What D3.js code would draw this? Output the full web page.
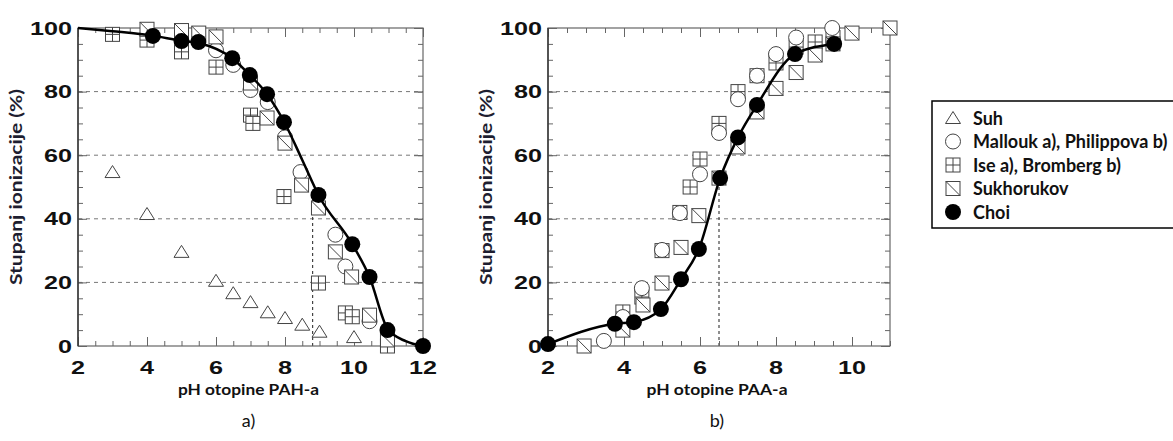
<!DOCTYPE html>
<html>
<head>
<meta charset="utf-8">
<script src="https://cdn.jsdelivr.net/npm/d3@7"></script>
<style>
  body { margin: 0; background: #fff; }
  svg { display: block; }
</style>
</head>
<body>
<div id="chart"></div>
<script>
// ---- data ----
// panel a) PAH
const suhX_a = [3, 4, 5, 6, 6.5, 7, 7.5, 8, 8.5, 9, 10];
const suhY_a = [54.7, 41.5, 29.6, 20.5, 16.6, 13.8, 10.6, 8.8, 6.7, 4.5, 2.8];

const mallX_a = [6, 6.5, 7, 7.5, 8, 8.45, 9.46, 9.75, 10.45];
const mallY_a = [93, 88.4, 80.5, 76.7, 65.6, 54.7, 35, 25, 7.8];

const iseX_a = [3, 4, 5, 6, 7, 7.07, 7.97, 8.97, 9.75, 9.95, 10.97];
const iseY_a = [98, 96.2, 92.5, 87.7, 72.6, 70, 47, 19.8, 10.4, 9.2, 0];

const sukhX_a = [4, 5, 5.5, 6, 7, 7.48, 8, 8.48, 8.97, 9.46, 9.93, 10.45, 10.97];
const sukhY_a = [99.6, 99.2, 98.4, 97.2, 82.7, 71.7, 63.8, 50.6, 43.4, 29.6, 21.7, 9.7, 1.9];

const choiX_a = [4.17, 5, 5.49, 6.47, 6.98, 7.48, 7.97, 8.97, 9.95, 10.45, 10.97, 12];
const choiY_a = [97.5, 95.9, 95.6, 90.5, 85.2, 79.2, 70.4, 47.5, 32, 21.7, 5, 0];

const fitX_a = [2, 3, 4.17, 5, 5.49, 6.47, 6.98, 7.48, 7.97, 8.5, 8.97, 9.95, 10.45, 10.97, 11.5, 12];
const fitY_a = [100, 99, 97.6, 96, 95.3, 90.5, 85.2, 79.2, 70.6, 58.5, 47.5, 32, 21.7, 5.5, 1.5, 0];

const refX_a = 8.8, refY_a = 47;

// panel b) PAA
const mallX_b = [3.47, 3.97, 4.47, 5, 5.47, 6, 6.5, 7, 7.5, 8, 8.53, 9.48];
const mallY_b = [1.6, 9.1, 18.2, 30.2, 41.8, 54, 67, 77.6, 85, 91.8, 97, 100];

const iseX_b = [3.97, 4.47, 5, 5.47, 5.74, 6, 6.5, 7, 7.5, 8, 8.53, 9.03, 9.5];
const iseY_b = [10.7, 15.4, 30, 42, 50, 58.8, 70, 80, 85, 89, 94, 95.6, 97];

const sukhX_b = [2.95, 3.97, 4.5, 5, 5.5, 5.97, 6.5, 7, 7.5, 8, 8.53, 9.03, 9.5, 10, 11];
const sukhY_b = [0, 5, 12.9, 19.8, 31, 41, 52.8, 62.6, 73.6, 81, 86, 91.5, 95, 98.4, 100];

const choiX_b = [2, 3.76, 4.26, 4.97, 5.5, 5.97, 6.53, 7, 7.5, 8.5, 9.53];
const choiY_b = [0.6, 7, 7.5, 11.6, 21, 30.5, 52.8, 65.6, 75.8, 91.8, 95];

const refX_b = 6.5, refY_b = 52;

const legendLabels = ["Suh", "Mallouk a), Philippova b)", "Ise a), Bromberg b)", "Sukhorukov", "Choi"];
const legendKinds = ["tri", "circle", "ise", "sukh", "choi"];

const yTicks = [0, 20, 40, 60, 80, 100];
const yGrid = [20, 40, 60, 80];
const xTicks_a = [2, 4, 6, 8, 10, 12];
const xTicks_b = [2, 4, 6, 8, 10];

const yTitle = "Stupanj ionizacije (%)";
const xTitle_a = "pH otopine PAH-a";
const xTitle_b = "pH otopine PAA-a";

// ---- drawing ----
const width = 1173, height = 441;
const svg = d3.select("#chart").append("svg")
    .attr("width", width)
    .attr("height", height);

const mStroke = "#444";
const zip = (xs, ys) => xs.map((x, i) => [x, ys[i]]);

function drawMarkers(g, pts, kind, x, y) {
    const sel = g.append("g").selectAll("g")
        .data(pts)
        .join("g")
        .attr("transform", d => `translate(${x(d[0])},${y(d[1])})`);
    drawSymbol(sel, kind);
}

function drawSymbol(sel, kind) {
    const s = 7;
    if (kind === "tri") {
        sel.append("path")
            .attr("d", `M0,${-6.5}L7.5,5.5L-7.5,5.5Z`)
            .attr("fill", "#fff").attr("stroke", mStroke).attr("stroke-width", 1);
    } else if (kind === "circle") {
        sel.append("circle").attr("r", 7.5)
            .attr("fill", "#fff").attr("stroke", mStroke).attr("stroke-width", 1);
    } else if (kind === "ise") {
        sel.append("rect").attr("x", -s).attr("y", -s).attr("width", 2 * s).attr("height", 2 * s)
            .attr("fill", "#fff").attr("stroke", mStroke).attr("stroke-width", 1);
        sel.append("path").attr("d", `M0,${-s}V${s}M${-s},0H${s}`)
            .attr("stroke", mStroke).attr("stroke-width", 1);
    } else if (kind === "sukh") {
        sel.append("rect").attr("x", -s).attr("y", -s).attr("width", 2 * s).attr("height", 2 * s)
            .attr("fill", "#fff").attr("stroke", mStroke).attr("stroke-width", 1);
        sel.append("path").attr("d", `M${-s},${-s}L${s},${s}`)
            .attr("stroke", mStroke).attr("stroke-width", 1);
    } else if (kind === "choi") {
        sel.append("circle").attr("r", 8).attr("fill", "#000");
    }
}

function drawPanel(opt) {
    const x = d3.scaleLinear().domain(opt.xDomain).range(opt.xRange);
    const y = d3.scaleLinear().domain([0, 100]).range([346, 28]);
    const g = svg.append("g");
    const [x0, x1] = opt.xRange;

    // dashed grid
    g.append("g").selectAll("line")
        .data(yGrid)
        .join("line")
        .attr("x1", x0).attr("x2", x1)
        .attr("y1", d => y(d)).attr("y2", d => y(d))
        .attr("stroke", "#777").attr("stroke-width", 1)
        .attr("stroke-dasharray", "4,4");

    // dotted reference line
    g.append("line")
        .attr("x1", x(opt.refX)).attr("x2", x(opt.refX))
        .attr("y1", y(0)).attr("y2", y(opt.refY))
        .attr("stroke", "#444").attr("stroke-width", 1.2)
        .attr("stroke-dasharray", "3,3");

    // axes with inward ticks
    const xMinor = d3.range(opt.xDomain[0], opt.xDomain[1] + 0.01, 0.5);
    const xMajor = d3.range(opt.xDomain[0], opt.xDomain[1] + 0.01, 2);
    const yMinor = d3.range(0, 100.1, 5);
    const axStyle = a => {
        a.select(".domain").remove();
        a.selectAll("line").attr("stroke", "#666");
    };
    g.append("g").attr("transform", `translate(0,${y(0)})`)
        .call(d3.axisBottom(x).tickValues(xMinor).tickSize(-5).tickFormat("")).call(axStyle);
    g.append("g").attr("transform", `translate(0,${y(0)})`)
        .call(d3.axisBottom(x).tickValues(xMajor).tickSize(-9).tickFormat("")).call(axStyle);
    g.append("g").attr("transform", `translate(0,${y(100)})`)
        .call(d3.axisTop(x).tickValues(xMinor).tickSize(-5).tickFormat("")).call(axStyle);
    g.append("g").attr("transform", `translate(0,${y(100)})`)
        .call(d3.axisTop(x).tickValues(xMajor).tickSize(-9).tickFormat("")).call(axStyle);
    g.append("g").attr("transform", `translate(${x0},0)`)
        .call(d3.axisLeft(y).tickValues(yMinor).tickSize(-5).tickFormat("")).call(axStyle);
    g.append("g").attr("transform", `translate(${x0},0)`)
        .call(d3.axisLeft(y).tickValues(yTicks).tickSize(-9).tickFormat("")).call(axStyle);
    g.append("g").attr("transform", `translate(${x1},0)`)
        .call(d3.axisRight(y).tickValues(yMinor).tickSize(-5).tickFormat("")).call(axStyle);
    g.append("g").attr("transform", `translate(${x1},0)`)
        .call(d3.axisRight(y).tickValues(yTicks).tickSize(-9).tickFormat("")).call(axStyle);

    // frame
    g.append("rect")
        .attr("x", x0).attr("y", y(100))
        .attr("width", x1 - x0).attr("height", y(0) - y(100))
        .attr("fill", "none").attr("stroke", "#666").attr("stroke-width", 1.2);
    g.append("line")
        .attr("x1", x0).attr("x2", x0).attr("y1", y(100)).attr("y2", y(0))
        .attr("stroke", "#333").attr("stroke-width", 1.4);

    // tick labels (stretched bold digits, like the original)
    const sx = 1.4;
    g.append("g").selectAll("text")
        .data(opt.xTicks)
        .join("text")
        .attr("transform", d => `translate(${x(d)},374) scale(${sx},1)`)
        .attr("text-anchor", "middle")
        .attr("font-family", "Liberation Sans, Arial, sans-serif")
        .attr("font-weight", "bold").attr("font-size", 18)
        .attr("fill", "#111")
        .text(d => d);
    g.append("g").selectAll("text")
        .data(yTicks)
        .join("text")
        .attr("transform", d => `translate(${x0 - 6},${y(d) + 6.5}) scale(${sx},1)`)
        .attr("text-anchor", "end")
        .attr("font-family", "Liberation Sans, Arial, sans-serif")
        .attr("font-weight", "bold").attr("font-size", 18)
        .attr("fill", "#111")
        .text(d => d);

    // titles
    g.append("text")
        .attr("transform", `translate(${opt.yTitleX},${y(50)}) rotate(-90)`)
        .attr("text-anchor", "middle")
        .attr("font-family", "Lato, sans-serif").attr("font-weight", "bold")
        .attr("font-size", 17).attr("fill", "#1e1e30")
        .attr("textLength", 196).attr("lengthAdjust", "spacingAndGlyphs")
        .text(yTitle);
    g.append("text")
        .attr("x", (x0 + x1) / 2 - 2).attr("y", 395)
        .attr("text-anchor", "middle")
        .attr("font-family", "Lato, sans-serif").attr("font-weight", "bold")
        .attr("font-size", 15).attr("fill", "#111")
        .attr("textLength", 141).attr("lengthAdjust", "spacingAndGlyphs")
        .text(opt.xTitle);
    g.append("text")
        .attr("x", (x0 + x1) / 2 - 2).attr("y", 427)
        .attr("text-anchor", "middle")
        .attr("font-family", "Lato, sans-serif")
        .attr("font-size", 18).attr("fill", "#111")
        .text(opt.caption);

    // markers and fit line
    if (opt.suh) drawMarkers(g, opt.suh, "tri", x, y);
    drawMarkers(g, opt.ise, "ise", x, y);
    drawMarkers(g, opt.mall, "circle", x, y);
    drawMarkers(g, opt.sukh, "sukh", x, y);

    const line = d3.line()
        .x(d => x(d[0]))
        .y(d => y(d[1]))
        .curve(d3.curveMonotoneX);
    g.append("path")
        .datum(opt.fit)
        .attr("d", line)
        .attr("fill", "none")
        .attr("stroke", "#000")
        .attr("stroke-width", 2.5);

    drawMarkers(g, opt.choi, "choi", x, y);
}

drawPanel({
    xDomain: [2, 12], xRange: [78, 423], xTicks: xTicks_a,
    refX: refX_a, refY: refY_a, yTitleX: 22,
    xTitle: xTitle_a, caption: "a)",
    suh: zip(suhX_a, suhY_a),
    mall: zip(mallX_a, mallY_a),
    ise: zip(iseX_a, iseY_a),
    sukh: zip(sukhX_a, sukhY_a),
    choi: zip(choiX_a, choiY_a),
    fit: zip(fitX_a, fitY_a)
});

drawPanel({
    xDomain: [2, 11], xRange: [548, 890], xTicks: xTicks_b,
    refX: refX_b, refY: refY_b, yTitleX: 492,
    xTitle: xTitle_b, caption: "b)",
    mall: zip(mallX_b, mallY_b),
    ise: zip(iseX_b, iseY_b),
    sukh: zip(sukhX_b, sukhY_b),
    choi: zip(choiX_b, choiY_b),
    fit: zip(choiX_b, choiY_b)
});

// legend
const leg = svg.append("g");
leg.append("rect")
    .attr("x", 932).attr("y", 101)
    .attr("width", 260).attr("height", 127)
    .attr("fill", "#fff").attr("stroke", "#000").attr("stroke-width", 1.5);
const items = leg.selectAll("g.item")
    .data(legendLabels)
    .join("g")
    .attr("class", "item")
    .attr("transform", (d, i) => `translate(953,${118 + i * 23.5})`);
items.each(function (d, i) {
    drawSymbol(d3.select(this), legendKinds[i]);
});
items.append("text")
    .attr("x", 20).attr("y", 6.5)
    .attr("font-family", "Lato, sans-serif").attr("font-weight", "bold")
    .attr("font-size", 18).attr("fill", "#111")
    .text(d => d);
</script>
</body>
</html>
